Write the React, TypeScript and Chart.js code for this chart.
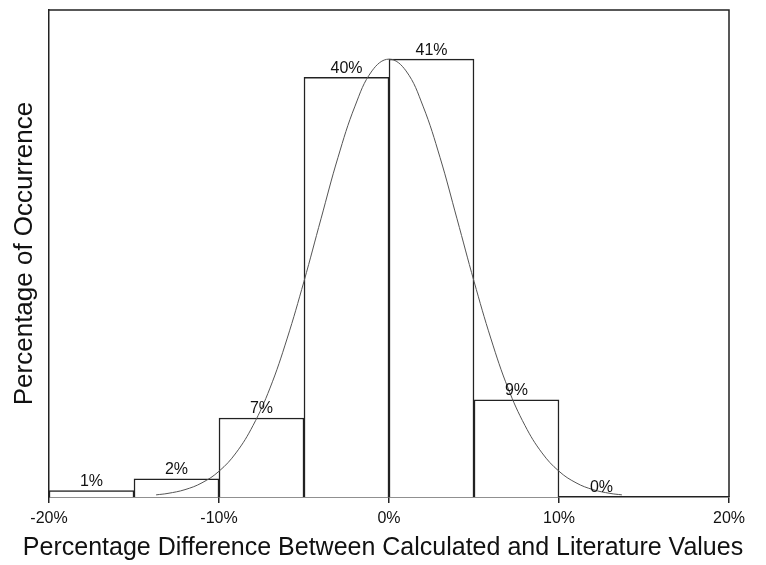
import React, { useEffect, useRef } from "react";
import { Chart, registerables } from "chart.js";

Chart.register(...registerables);

const binCenters = [-17.5, -12.5, -7.5, -2.5, 2.5, 7.5, 12.5];
const binValues = [0.6, 1.7, 7.4, 39.3, 41, 9.1, 0];
const binLabels = ["1%", "2%", "7%", "40%", "41%", "9%", "0%"];

const curveX = [-13.7, -13, -12, -11, -10, -9, -8, -7, -6, -5, -4, -3, -2, -1, 0, 1, 2, 3, 4, 5, 6, 7, 8, 9, 10, 11, 12, 13, 13.7];
const curveY = [0.2, 0.34, 0.69, 1.33, 2.41, 4.13, 6.69, 10.2, 14.8, 20.2, 26.05, 31.8, 36.6, 39.9, 41, 39.9, 36.6, 31.8, 26.05, 20.2, 14.8, 10.2, 6.69, 4.13, 2.41, 1.33, 0.69, 0.34, 0.2];

const xTickValues = [-20, -10, 0, 10, 20];
const xTitle = "Percentage Difference Between Calculated and Literature Values";
const yTitle = "Percentage of Occurrence";

const FONT = "'Liberation Sans', Arial, sans-serif";

export default function App() {
  const ref = useRef<HTMLCanvasElement | null>(null);

  useEffect(() => {
    document.body.style.margin = "0";
    const canvas = ref.current;
    if (!canvas) return;

    const boxPlugin = {
      id: "box",
      afterDraw(chart: any) {
        const { ctx, chartArea: a } = chart;
        ctx.save();
        ctx.strokeStyle = "#222";
        ctx.lineWidth = 1.5;
        ctx.beginPath();
        ctx.moveTo(a.left, a.top);
        ctx.lineTo(a.right, a.top);
        ctx.lineTo(a.right, a.bottom);
        ctx.stroke();
        // x axis title (drawn without width compression)
        ctx.fillStyle = "#111";
        ctx.font = `25px ${FONT}`;
        ctx.textAlign = "center";
        ctx.textBaseline = "middle";
        ctx.fillText(xTitle, 383, 548);
        ctx.restore();
      },
    };

    const labelPlugin = {
      id: "barLabels",
      afterDatasetsDraw(chart: any) {
        const { ctx } = chart;
        const xs = chart.scales.x;
        const ys = chart.scales.y;
        ctx.save();
        ctx.fillStyle = "#111";
        ctx.font = `16px ${FONT}`;
        ctx.textAlign = "center";
        ctx.textBaseline = "bottom";
        binCenters.forEach((c, i) => {
          const px = xs.getPixelForValue(c);
          const py = ys.getPixelForValue(binValues[i]);
          ctx.fillText(binLabels[i], px, py - 1);
        });
        ctx.restore();
      },
    };

    const chart = new Chart(canvas, {
      type: "bar",
      data: {
        datasets: [
          {
            type: "line",
            data: curveX.map((x, i) => ({ x, y: curveY[i] })),
            borderColor: "#555",
            borderWidth: 1,
            pointRadius: 0,
            tension: 0.4,
            fill: false,
            order: 0,
          } as any,
          {
            type: "bar",
            data: binCenters.map((x, i) => ({ x, y: binValues[i] })),
            backgroundColor: "#ffffff",
            borderColor: "#222",
            borderWidth: 1.5,
            barPercentage: 1,
            categoryPercentage: 1,
            order: 1,
          } as any,
        ],
      },
      options: {
        animation: false,
        responsive: false,
        maintainAspectRatio: false,
        layout: { padding: { top: 10, right: 37, left: 0, bottom: 0 } },
        plugins: {
          legend: { display: false },
          tooltip: { enabled: false },
        },
        scales: {
          x: {
            type: "linear",
            min: -20,
            max: 20,
            offset: false,
            afterBuildTicks: (scale: any) => {
              scale.ticks = xTickValues.map((v) => ({ value: v }));
            },
            afterFit: (scale: any) => {
              scale.height = 68;
            },
            ticks: {
              color: "#111",
              font: { family: FONT, size: 16 },
              padding: 6,
              maxRotation: 0,
              autoSkip: false,
              callback: (v: any) => `${v}%`,
            },
            grid: {
              display: true,
              drawOnChartArea: false,
              drawTicks: true,
              tickLength: 6,
              color: "#222",
              lineWidth: 1.5,
              offset: false,
            },
            border: { display: true, color: "#222", width: 1.5 },
            title: { display: false },
          },
          y: {
            type: "linear",
            min: 0,
            max: 45.6,
            afterFit: (scale: any) => {
              scale.width = 49;
            },
            ticks: { display: false },
            grid: { display: false, drawTicks: false },
            border: { display: true, color: "#222", width: 1.5 },
            title: {
              display: true,
              text: yTitle,
              color: "#111",
              font: { family: FONT, size: 26 },
              padding: { top: 9, bottom: 0 },
            },
          },
        },
      },
      plugins: [boxPlugin, labelPlugin],
    } as any);

    return () => chart.destroy();
  }, []);

  return (
    <div style={{ position: "absolute", left: 0, top: 0, width: 766, height: 565, background: "#fff" }}>
      <canvas ref={ref} width={766} height={565} style={{ width: 766, height: 565, display: "block" }} />
    </div>
  );
}
